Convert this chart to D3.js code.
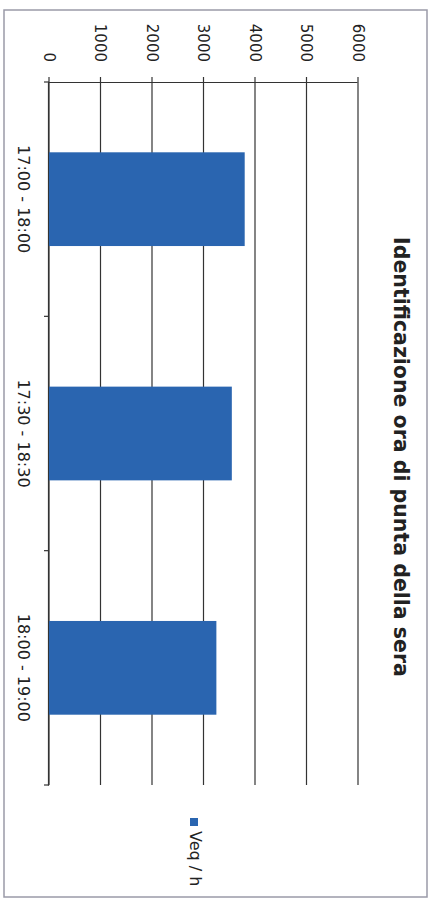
<!DOCTYPE html>
<html><head><meta charset="utf-8">
<script src="https://cdn.jsdelivr.net/npm/d3@7"></script>
<style>html,body{margin:0;padding:0;background:#fff;}svg{display:block;}</style>
</head><body>
<script>
const title = "Identificazione ora di punta della sera";
const categories = ["17:00 - 18:00", "17:30 - 18:30", "18:00 - 19:00"];
const values = [3800, 3550, 3250];
const valueTicks = [0, 1000, 2000, 3000, 4000, 5000, 6000];
const seriesName = "Veq / h";

const W = 430, H = 901;
const svg = d3.select("body").append("svg").attr("width", W).attr("height", H);
// chart drawn in an unrotated frame (u horizontal = screen y, v vertical = 430 - screen x), then rotated 90° clockwise
const g = svg.append("g").attr("transform", `translate(${W},0) rotate(90)`);

const font = "DejaVu Sans, sans-serif";

g.append("rect").attr("x", 10).attr("y", 3).attr("width", 887).attr("height", 423)
  .attr("fill", "#fff").attr("stroke", "#9a9aa8").attr("stroke-width", 1.5);

const x = d3.scaleBand().domain(categories).range([82, 785]).paddingInner(0.6).paddingOuter(0.3);
const y = d3.scaleLinear().domain([0, 6000]).range([381, 72]);

// gridlines
g.append("g").selectAll("line").data(valueTicks).join("line")
  .attr("x1", 77).attr("x2", 785)
  .attr("y1", d => y(d)).attr("y2", d => y(d))
  .attr("stroke", "#333").attr("stroke-width", 1.2);

// value axis
const yAxis = d3.axisLeft(y).tickValues(valueTicks).tickSize(0).tickPadding(20).tickFormat(d3.format("d"));
const ya = g.append("g").attr("transform", "translate(82,0)").call(yAxis);
ya.select(".domain").attr("stroke", "#333").attr("stroke-width", 1.2);
ya.selectAll("text").attr("font-family", font).attr("font-size", 15).attr("fill", "#222");

// category axis
const xa = g.append("g").attr("transform", `translate(0,${y(0)})`)
  .call(d3.axisBottom(x).tickSize(0).tickPadding(20));
xa.select(".domain").attr("stroke", "#333").attr("stroke-width", 1.2);
xa.selectAll("text").attr("font-family", font).attr("font-size", 16).attr("fill", "#222");
// category boundary ticks
const bounds = [0, 1, 2, 3].map(i => 82 + i * (703 / 3));
g.append("g").selectAll("line").data(bounds).join("line")
  .attr("x1", d => d).attr("x2", d => d)
  .attr("y1", y(0)).attr("y2", y(0) + 5)
  .attr("stroke", "#333").attr("stroke-width", 1.2);

// bars
g.append("g").selectAll("rect").data(values).join("rect")
  .attr("x", (d, i) => x(categories[i]))
  .attr("width", x.bandwidth())
  .attr("y", d => y(d))
  .attr("height", d => y(0) - y(d))
  .attr("fill", "#2a65b0");

// title
g.append("text").attr("x", 457).attr("y", 30)
  .attr("text-anchor", "middle").attr("dominant-baseline", "middle")
  .attr("font-family", font).attr("font-weight", "bold").attr("font-size", 20.5)
  .attr("fill", "#222").text(title);

// legend
g.append("rect").attr("x", 818).attr("y", 232).attr("width", 8).attr("height", 8).attr("fill", "#2a65b0");
g.append("text").attr("x", 831).attr("y", 236).attr("dominant-baseline", "middle")
  .attr("font-family", font).attr("font-size", 16).attr("fill", "#222").text(seriesName);
</script>
</body></html>
